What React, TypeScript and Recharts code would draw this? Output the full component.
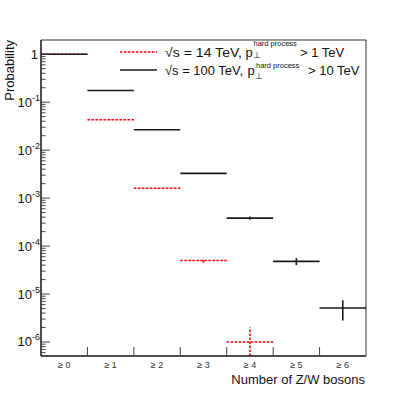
import React from "react";
import {
  ComposedChart,
  Scatter,
  XAxis,
  YAxis,
  ErrorBar,
  ReferenceArea,
} from "recharts";

// Probability of producing >= N Z/W bosons, ROOT-style log histogram.

const categories = ["≥ 0", "≥ 1", "≥ 2", "≥ 3", "≥ 4", "≥ 5", "≥ 6"];

// sqrt(s) = 14 TeV, pT(hard) > 1 TeV
const prob14 = [1.0, 0.043, 0.0016, 5.0e-5, 1.0e-6, null, null];
// lower error of the last bin is cut by the axis frame
const err14Low = [0, 0.0004, 2e-5, 5e-6, 0.49e-6, 0, 0];
const err14High = [0, 0.0004, 2e-5, 5e-6, 1.0e-6, 0, 0];

// sqrt(s) = 100 TeV, pT(hard) > 10 TeV
const prob100 = [1.0, 0.175, 0.0266, 0.00327, 3.83e-4, 4.8e-5, 5.1e-6];
const err100 = [0, 0.001, 0.0002, 3e-5, 2.8e-5, 8e-6, 2.3e-6];

const yDecades = [1e-6, 1e-5, 1e-4, 1e-3, 1e-2, 1e-1, 1];
const yMin = 5.1e-7;
const yMax = 1.98;

const FONT = '"Liberation Sans", Arial, Helvetica, sans-serif';
const RED = "#ff0000";
const BLACK = "#1a1a1a";

type Row = { x: number; y: number; ex: number; ey: [number, number] };

function buildRows(
  values: (number | null)[],
  lo: number[],
  hi: number[]
): Row[] {
  const rows: Row[] = [];
  values.forEach((v, i) => {
    if (v == null) return;
    rows.push({ x: i + 0.5, y: v, ex: 0.5, ey: [lo[i], hi[i]] });
  });
  return rows;
}

const rows14 = buildRows(prob14, err14Low, err14High);
const rows100 = buildRows(prob100, err100, err100);

// minor log ticks 2..9 per decade inside the visible range
const yMinor: number[] = [];
[1e-7, 1e-6, 1e-5, 1e-4, 1e-3, 1e-2, 1e-1, 1].forEach((d) => {
  for (let k = 2; k <= 9; k++) {
    const v = k * d;
    if (v >= yMin && v <= yMax) yMinor.push(v);
  }
});
const yTicks = [...yDecades, ...yMinor].sort((a, b) => a - b);
const xTicks = [0.5, 1, 1.5, 2, 2.5, 3, 3.5, 4, 4.5, 5, 5.5, 6, 6.5];

function YTick(props: any) {
  const { x, y, payload } = props;
  const v = payload.value as number;
  const lg = Math.log10(v);
  const exp = Math.round(lg);
  const major = Math.abs(lg - exp) < 1e-6;
  return (
    <g>
      <line
        x1={x}
        x2={x + (major ? 9 : 4.5)}
        y1={y}
        y2={y}
        stroke="#444"
        strokeWidth={1}
      />
      {major &&
        (exp === 0 ? (
          <text x={x - 3} y={y + 4.5} textAnchor="end" fontSize={13} fill="#111" fontFamily={FONT}>
            1
          </text>
        ) : (
          <text x={x - 1} y={y + 4.5} textAnchor="end" fontSize={13} fill="#111" fontFamily={FONT}>
            10
            <tspan dy={-6} fontSize={9}>
              {exp}
            </tspan>
          </text>
        ))}
    </g>
  );
}

function XTick(props: any) {
  const { x, y, payload } = props;
  const v = payload.value as number;
  if (Number.isInteger(v)) {
    return <line x1={x} x2={x} y1={y} y2={y - 9} stroke="#444" strokeWidth={1} />;
  }
  return (
    <text x={x} y={y + 12} textAnchor="middle" fontSize={9} fill="#333" fontFamily={FONT}>
      {categories[Math.floor(v)]}
    </text>
  );
}

const noMarker = () => <g />;

export default function App() {
  return (
    <div
      style={{
        position: "absolute",
        left: 0,
        top: 0,
        width: 407,
        height: 396,
        background: "#fff",
        fontFamily: FONT,
      }}
    >
      <ComposedChart
        width={407}
        height={396}
        margin={{ top: 40, right: 41, bottom: 0, left: 0 }}
      >
        <XAxis
          type="number"
          dataKey="x"
          domain={[0, 7]}
          ticks={xTicks}
          interval={0}
          tick={<XTick />}
          tickLine={false}
          tickSize={0}
          tickMargin={0}
          height={40}
          axisLine={{ stroke: "#000", strokeWidth: 1 }}
          allowDataOverflow
        />
        <YAxis
          type="number"
          dataKey="y"
          scale="log"
          domain={[yMin, yMax]}
          ticks={yTicks}
          interval={0}
          tick={<YTick />}
          tickLine={false}
          tickSize={0}
          tickMargin={0}
          width={41}
          axisLine={{ stroke: "#000", strokeWidth: 1 }}
          allowDataOverflow
        />
        <ReferenceArea
          x1={0}
          x2={7}
          y1={yMin}
          y2={yMax}
          fill="none"
          stroke="#333"
          strokeWidth={1}
          ifOverflow="visible"
        />
        <Scatter data={rows14} dataKey="y" shape={noMarker} isAnimationActive={false}>
          <ErrorBar dataKey="ex" direction="x" width={0} stroke={RED} strokeWidth={1.6} strokeDasharray="2.5 1.5" />
          <ErrorBar dataKey="ey" direction="y" width={0} stroke={RED} strokeWidth={1.6} strokeDasharray="2.5 1.5" />
        </Scatter>
        <Scatter data={rows100} dataKey="y" shape={noMarker} isAnimationActive={false}>
          <ErrorBar dataKey="ex" direction="x" width={0} stroke={BLACK} strokeWidth={1.6} />
          <ErrorBar dataKey="ey" direction="y" width={0} stroke={BLACK} strokeWidth={1.6} />
        </Scatter>
      </ComposedChart>

      <svg
        width={407}
        height={396}
        style={{ position: "absolute", left: 0, top: 0, pointerEvents: "none" }}
        fontFamily={FONT}
      >
        <text
          transform="translate(14,40) rotate(-90)"
          textAnchor="end"
          fontSize={13}
          fill="#111"
        >
          Probability
        </text>
        <text x={365} y={384} textAnchor="end" fontSize={13} fill="#111">
          Number of Z/W bosons
        </text>

        {/* legend */}
        <line x1={120} x2={157} y1={52} y2={52} stroke={RED} strokeWidth={1.6} strokeDasharray="2.5 1.5" />
        <line x1={120} x2={157} y1={70} y2={70} stroke={BLACK} strokeWidth={1.6} />

        <text x={165} y={56.5} fontSize={13} fill="#111" textLength={77} lengthAdjust="spacingAndGlyphs">
          √s = 14 TeV,
        </text>
        <text x={245.5} y={56.5} fontSize={13} fill="#111">p</text>
        <text x={253.5} y={45.5} fontSize={7.5} fill="#111">hard process</text>
        <text x={253} y={58} fontSize={9} fill="#111">⊥</text>
        <text x={300} y={56.5} fontSize={13} fill="#111">&gt; 1 TeV</text>

        <text x={165} y={74.5} fontSize={13} fill="#111" textLength={78} lengthAdjust="spacingAndGlyphs">
          √s = 100 TeV,
        </text>
        <text x={247.5} y={74.5} fontSize={13} fill="#111">p</text>
        <text x={256} y={67.5} fontSize={7.5} fill="#111">hard process</text>
        <text x={255} y={79} fontSize={9} fill="#111">⊥</text>
        <text x={308} y={74.5} fontSize={13} fill="#111">&gt; 10 TeV</text>
      </svg>
    </div>
  );
}
